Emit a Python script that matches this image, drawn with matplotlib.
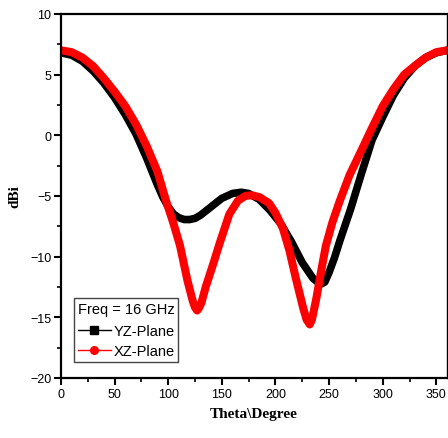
import matplotlib
matplotlib.use("Agg")
import matplotlib.pyplot as plt
from matplotlib.lines import Line2D
from matplotlib.ticker import MultipleLocator

# YZ-plane (black)
theta_yz = [0, 10, 20, 30, 40, 50, 60, 70, 80, 90, 95, 100, 105, 110, 115, 120,
            125, 130, 140, 150, 160, 168, 175, 185, 195, 205, 215, 225, 235,
            240, 243, 246, 250, 255, 260, 270, 280, 290, 300, 310, 320, 330,
            340, 350, 360]
gain_yz = [6.8, 6.6, 6.1, 5.3, 4.3, 3.1, 1.7, 0.1, -1.9, -4.1, -5.1, -5.9, -6.5,
           -6.8, -6.95, -6.95, -6.85, -6.6, -5.9, -5.2, -4.8, -4.7, -4.8, -5.3,
           -6.2, -7.3, -8.8, -10.5, -11.8, -12.15, -12.25, -12.1, -11.3, -10.1,
           -8.7, -6.1, -3.2, -0.4, 1.5, 3.3, 4.7, 5.7, 6.4, 6.8, 7.0]

# XZ-plane (red)
theta_xz = [0, 10, 20, 30, 40, 50, 60, 70, 80, 90, 98, 105, 111, 118, 123, 125,
            127, 129, 131, 135, 142, 148, 157, 165, 172, 178, 185, 194, 200, 207,
            213, 219, 226, 229, 232, 234, 238, 243, 247, 253, 260, 269, 282,
            290, 300, 310, 320, 331, 340, 350, 360]
gain_xz = [7.0, 6.85, 6.4, 5.7, 4.7, 3.6, 2.4, 0.9, -0.9, -3.0, -5.4, -7.3,
           -9.1, -12.0, -13.7, -14.2, -14.45, -14.2, -13.8, -12.5, -10.6, -8.9,
           -6.5, -5.4, -5.0, -4.95, -5.1, -5.6, -6.4, -7.7, -9.5, -11.8, -14.3,
           -15.2, -15.6, -15.2, -13.5, -11.0, -9.1, -7.2, -5.4, -3.3, -0.9, 0.6,
           2.4, 3.8, 5.0, 5.8, 6.4, 6.85, 7.0]

fig = plt.figure(figsize=(4.48, 4.39), dpi=100)
ax = fig.add_axes([0.136, 0.137, 0.862, 0.829])

ax.plot(theta_yz, gain_yz, color="black", lw=5.5, solid_capstyle="round",
        solid_joinstyle="round")
ax.plot(theta_xz, gain_xz, color="#ff0000", lw=5.8, solid_capstyle="round",
        solid_joinstyle="round")

ax.set_xlim(0, 360)
ax.set_ylim(-20, 10)
ax.xaxis.set_major_locator(MultipleLocator(50))
ax.xaxis.set_minor_locator(MultipleLocator(25))
ax.yaxis.set_major_locator(MultipleLocator(5))
ax.yaxis.set_minor_locator(MultipleLocator(2.5))
ax.tick_params(which="major", direction="out", length=5, width=1.5,
               labelsize=9, pad=2)
ax.tick_params(which="minor", direction="out", length=3, width=1.2)
for lab in ax.get_xticklabels() + ax.get_yticklabels():
    lab.set_fontfamily("Liberation Sans")

for s in ["left", "bottom", "top"]:
    ax.spines[s].set_linewidth(1.6)
ax.spines["right"].set_linewidth(1.0)

ax.set_xlabel("Theta\\Degree", fontfamily="Liberation Serif",
              fontweight="bold", fontsize=11, labelpad=5)
ax.set_ylabel("dBi", fontfamily="Liberation Serif", fontweight="bold",
              fontsize=11, labelpad=6)

handles = [Line2D([], [], color="black", lw=1, marker="s", markersize=5.5),
           Line2D([], [], color="#ff0000", lw=1, marker="o", markersize=5.5)]
labels = ["YZ-Plane", "XZ-Plane"]
leg = ax.legend(handles, labels, loc="lower left", title="Freq = 16 GHz",
                alignment="left", bbox_to_anchor=(0.034, 0.044),
                fancybox=False, framealpha=1, edgecolor="#444444",
                handlelength=2.3, handletextpad=0.15, borderpad=0.25,
                labelspacing=0.42, borderaxespad=0,
                prop={"family": "Liberation Sans", "size": 10.5},
                title_fontproperties={"family": "Liberation Sans",
                                      "size": 10.5})
leg.get_frame().set_linewidth(1.0)
leg._legend_box.sep = 6

fig.savefig("out.png", dpi=100)
